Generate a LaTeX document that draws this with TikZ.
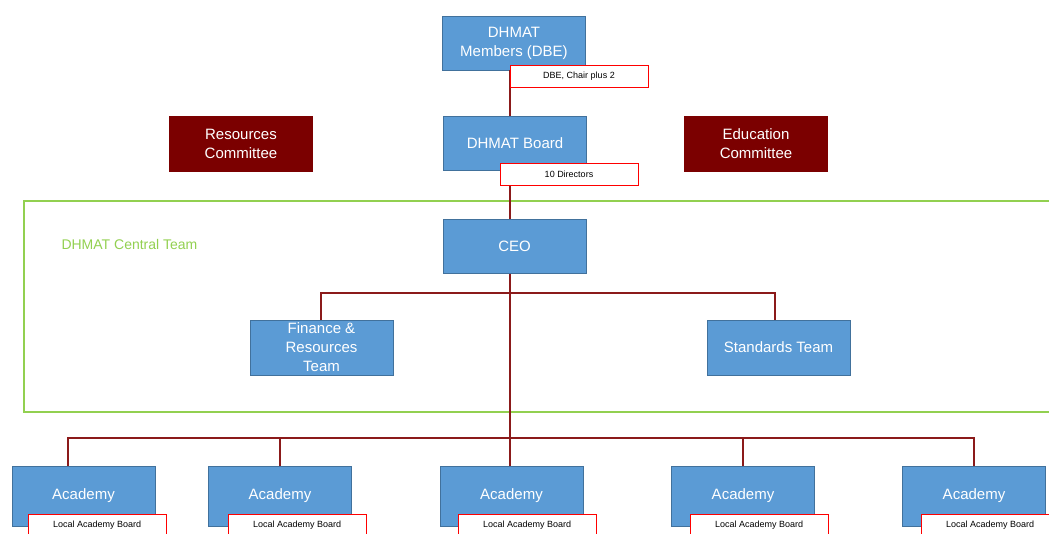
\documentclass[tikz,border=0pt]{standalone}
\usepackage{fontspec}
\setmainfont{Liberation Sans}
\definecolor{boxblue}{HTML}{5B9BD5}
\definecolor{boxedge}{HTML}{41719C}
\definecolor{darkred}{HTML}{7B0000}
\definecolor{linered}{HTML}{8B1A1A}
\definecolor{teamgreen}{HTML}{92D050}
\begin{document}
\begin{tikzpicture}[x=1pt,y=-1pt,
  bluebox/.style={draw=boxedge,fill=boxblue,text=white,minimum width=143pt,minimum height=54pt,inner sep=1pt,align=center,font=\fontsize{15}{19}\selectfont},
  redbox/.style={draw=darkred,fill=darkred,text=white,minimum width=143pt,minimum height=55pt,align=center,font=\fontsize{15}{19}\selectfont},
  tag/.style={draw=red,fill=white,text=black,minimum width=138pt,minimum height=22pt,inner sep=1pt,font=\fontsize{9}{10}\selectfont},
  conn/.style={draw=linered,line width=1.4pt}]
\useasboundingbox (0,0) rectangle (1049,534);
% green team frame
\draw[teamgreen,line width=1.2pt] (1055,201) -- (24,201) -- (24,412) -- (1055,412);
\node[text=teamgreen,anchor=west,font=\fontsize{14}{16}\selectfont] (teamlabel) at (58,244) {DHMAT Central Team};
% nodes
\node[bluebox] (members) at (514,43) {DHMAT\\Members (DBE)};
\node[bluebox] (board) at (515,143) {DHMAT Board};
\node[redbox] (rescom) at (241,143.5) {Resources\\Committee};
\node[redbox] (educom) at (756,143.5) {Education\\Committee};
\node[bluebox] (ceo) at (514.5,246.5) {CEO};
\node[bluebox,minimum height=55pt] (fin) at (321.5,347.5) {Finance \&\\Resources\\Team};
\node[bluebox,minimum height=55pt] (std) at (778.5,347.5) {Standards Team};
% coordinates
\coordinate (hub1) at (510,293);
\coordinate (hub2) at (510,438);
\coordinate (finx) at (321,0);
\coordinate (stdx) at (775,0);
% connectors
\draw[conn] (members.south -| hub1) -- (board.north -| hub1);
\draw[conn] (board.south -| hub1) -- (ceo.north -| hub1);
\draw[conn] (ceo.south -| hub1) -- (hub2);
\draw[conn] (fin.north -| finx) -- (finx |- hub1) -- (stdx |- hub1) -- (std.north -| stdx);
% academies
\foreach \i/\cx in {1/83.5,2/280,3/511.5,4/743,5/974}{
  \node[bluebox,minimum height=60pt] (ac\i) at (\cx,496) {Academy};
}
\coordinate (a1x) at (68,0);
\draw[conn] (ac1.north -| a1x) -- (a1x |- hub2) -- (ac5.north |- hub2) -- (ac5.north);
\draw[conn] (hub2) -- (ac3.north -| hub2);
\foreach \i in {2,4}{\draw[conn] (ac\i.north |- hub2) -- (ac\i.north);}
% tags
\node[tag] (tag0) at (579,76) {DBE, Chair plus 2};
\node[tag] (tag1) at (569,174) {10 Directors};
\node[tag,anchor=north west] (lab1) at (28,514) {Local Academy Board};
\node[tag,anchor=north west] (lab2) at (228,514) {Local Academy Board};
\node[tag,anchor=north west] (lab3) at (458,514) {Local Academy Board};
\node[tag,anchor=north west] (lab4) at (690,514) {Local Academy Board};
\node[tag,anchor=north west] (lab5) at (921,514) {Local Academy Board};
\end{tikzpicture}
\end{document}
